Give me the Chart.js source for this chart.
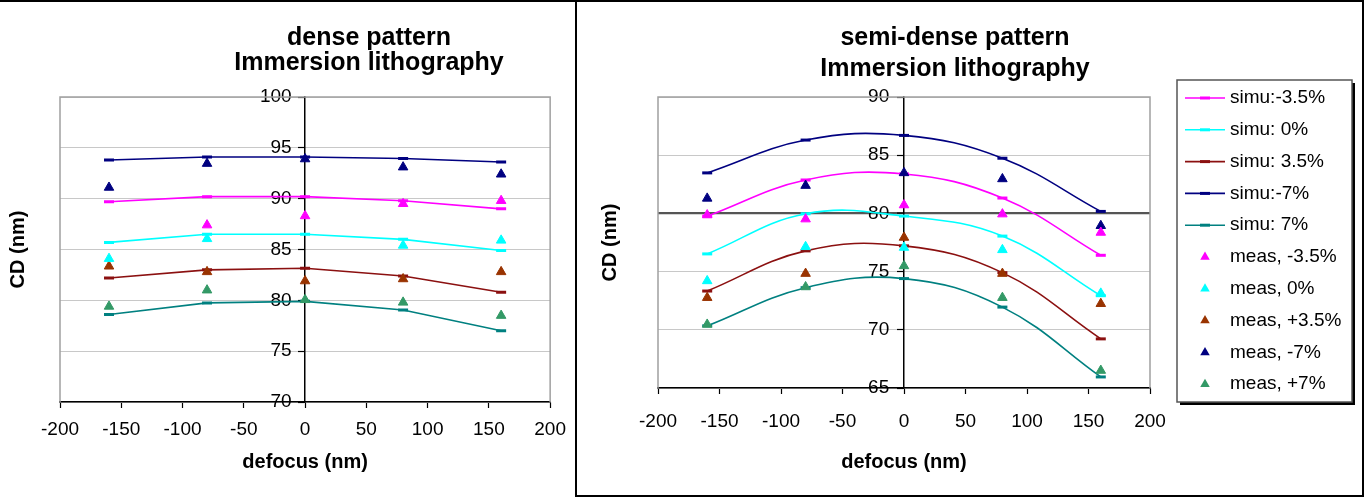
<!DOCTYPE html>
<html>
<head>
<meta charset="utf-8">
<script src="https://cdn.jsdelivr.net/npm/chart.js@4/dist/chart.umd.min.js"></script>
<style>
html,body{margin:0;padding:0;background:#fff;}
#wrap{position:relative;width:1364px;height:497px;overflow:hidden;background:#fff;}
#p1{position:absolute;left:0;top:0;width:576px;height:497px;}
#p2{position:absolute;left:577px;top:0;width:787px;height:497px;}
.ln{position:absolute;background:#000;}
</style>
</head>
<body>
<div id="wrap">
  <div id="p1"><canvas id="c1" width="576" height="497"></canvas></div>
  <div id="p2"><canvas id="c2" width="787" height="497"></canvas></div>
  <div class="ln" style="left:0;top:0;width:1364px;height:2px;"></div>
  <div class="ln" style="left:575px;top:0;width:2px;height:497px;"></div>
  <div class="ln" style="left:1362px;top:0;width:2px;height:497px;"></div>
  <div class="ln" style="left:575px;top:495px;width:789px;height:2px;"></div>
</div>
<script>
// ---------- data ----------
const defocus = [-160, -80, 0, 80, 160];
const xTickValues = [-200, -150, -100, -50, 0, 50, 100, 150, 200];
const denseYTicks = [70, 75, 80, 85, 90, 95, 100];
const semiYTicks = [65, 70, 75, 80, 85, 90];

const seriesLabels = ['simu:-3.5%', 'simu: 0%', 'simu: 3.5%', 'simu:-7%', 'simu: 7%',
                      'meas, -3.5%', 'meas, 0%', 'meas, +3.5%', 'meas, -7%', 'meas, +7%'];

// dense pattern
const denseSimuM35 = [89.7, 90.2, 90.2, 89.8, 89.0];
const denseSimu0   = [85.7, 86.5, 86.5, 86.0, 84.9];
const denseSimu35  = [82.2, 83.0, 83.15, 82.4, 80.8];
const denseSimuM7  = [93.8, 94.1, 94.1, 93.95, 93.6];
const denseSimu7   = [78.6, 79.75, 79.9, 79.05, 77.0];
const denseMeasM35 = [null, 87.4, 88.3, 89.5, 89.8];
const denseMeas0   = [84.1, 86.05, null, 85.4, 85.9];
const denseMeas35  = [83.35, 82.8, 81.9, 82.1, 82.8];
const denseMeasM7  = [91.1, 93.45, 93.9, 93.1, 92.4];
const denseMeas7   = [79.4, 81.0, 80.05, 79.8, 78.5];

// semi-dense pattern
const semiSimuM35 = [79.77, 82.87, 83.39, 81.32, 76.4];
const semiSimu0   = [76.52, 79.97, 79.77, 78.05, 72.93];
const semiSimu35  = [73.33, 76.78, 77.21, 74.91, 69.22];
const semiSimuM7  = [83.48, 86.3, 86.7, 84.74, 80.17];
const semiSimu7   = [70.34, 73.62, 74.4, 71.95, 65.95];
const semiMeasM35 = [79.86, 79.51, 80.72, 79.94, 78.36];
const semiMeas0   = [74.2, 77.13, 77.07, 76.87, 73.13];
const semiMeas35  = [72.76, 74.83, 77.93, 74.83, 72.24];
const semiMeasM7  = [81.29, 82.39, 83.48, 82.96, 78.94];
const semiMeas7   = [70.46, 73.68, 75.49, 72.76, 66.5];

// ---------- styling ----------
const FONT = "'Liberation Sans', Arial, sans-serif";
const simuColors = ['#FF00FF', '#00FFFF', '#8B1010', '#000080', '#008080'];
const measColors = ['#FF00FF', '#00FFFF', '#993300', '#000080', '#339966'];

function pts(vals) { return defocus.map((x, i) => ({x: x, y: vals[i]})); }

function buildDatasets(simu, meas, tension) {
  const ds = [];
  simu.forEach((v, i) => ds.push({
    label: seriesLabels[i], data: pts(v), showLine: true, tension: tension,
    borderColor: simuColors[i], backgroundColor: simuColors[i], borderWidth: 1.6,
    pointStyle: 'line', pointRadius: 5, pointBorderWidth: 3, pointBorderColor: simuColors[i],
    pointHoverRadius: 5, order: 2
  }));
  meas.forEach((v, i) => ds.push({
    label: seriesLabels[5 + i], data: pts(v), showLine: false,
    borderColor: measColors[i], backgroundColor: measColors[i],
    pointStyle: 'triangle', pointRadius: 5.5, pointBorderWidth: 1, pointHoverRadius: 5.5, order: 1
  }));
  return ds;
}

const textPlugin = {
  id: 'panelText',
  afterDraw(chart, args, opts) {
    const ctx = chart.ctx;
    ctx.save();
    ctx.fillStyle = '#000';
    ctx.textAlign = 'center';
    ctx.textBaseline = 'middle';
    ctx.font = 'bold ' + opts.titleSize + 'px ' + FONT;
    opts.title.forEach((t, i) => ctx.fillText(t, opts.titleX, opts.titleY[i]));
    ctx.translate(opts.yTitleX, (chart.chartArea.top + chart.chartArea.bottom) / 2);
    ctx.rotate(-Math.PI / 2);
    ctx.font = 'bold ' + opts.yTitleSize + 'px ' + FONT;
    ctx.fillText(opts.yTitle, 0, 0);
    ctx.restore();
  }
};

const framePlugin = {
  id: 'plotFrame',
  beforeDatasetsDraw(chart) {
    const {ctx, chartArea: a} = chart;
    ctx.save();
    ctx.strokeStyle = '#a0a0a0';
    ctx.lineWidth = 1.5;
    ctx.beginPath();
    ctx.moveTo(a.left, a.bottom);
    ctx.lineTo(a.left, a.top);
    ctx.lineTo(a.right, a.top);
    ctx.lineTo(a.right, a.bottom);
    ctx.stroke();
    ctx.restore();
  }
};

const legendPlugin = {
  id: 'boxLegend',
  afterDraw(chart, args, opts) {
    if (!opts.display) return;
    const ctx = chart.ctx;
    ctx.save();
    ctx.fillStyle = '#000';
    ctx.fillRect(opts.x + 3, opts.y + 3, opts.w, opts.h);
    ctx.fillStyle = '#fff';
    ctx.fillRect(opts.x, opts.y, opts.w, opts.h);
    ctx.strokeStyle = '#555';
    ctx.lineWidth = 1.5;
    ctx.strokeRect(opts.x, opts.y, opts.w, opts.h);
    ctx.font = opts.fontSize + 'px ' + FONT;
    ctx.textAlign = 'left';
    ctx.textBaseline = 'middle';
    chart.data.datasets.forEach((d, i) => {
      const y = opts.firstY + i * opts.rowH;
      const mx = opts.x + 28;
      ctx.fillStyle = d.backgroundColor;
      ctx.strokeStyle = d.borderColor;
      if (d.showLine) {
        ctx.lineWidth = 1.6;
        ctx.beginPath();
        ctx.moveTo(opts.x + 8, y);
        ctx.lineTo(opts.x + 48, y);
        ctx.stroke();
        ctx.lineWidth = 3;
        ctx.beginPath();
        ctx.moveTo(mx - 5, y);
        ctx.lineTo(mx + 5, y);
        ctx.stroke();
      } else {
        const r = 5.5;
        ctx.beginPath();
        ctx.moveTo(mx, y - r);
        ctx.lineTo(mx + r * 0.866, y + r * 0.5);
        ctx.lineTo(mx - r * 0.866, y + r * 0.5);
        ctx.closePath();
        ctx.fill();
      }
      ctx.fillStyle = '#000';
      ctx.fillText(d.label, opts.x + 53, y);
    });
    ctx.restore();
  }
};

function makeOptions(cfg) {
  return {
    responsive: false, animation: false, events: [],
    layout: {padding: cfg.padding},
    plugins: {
      legend: {display: false}, tooltip: {enabled: false},
      panelText: cfg.text,
      boxLegend: cfg.legend
    },
    scales: {
      x: {
        type: 'linear', min: -200, max: 200, position: 'bottom',
        afterBuildTicks: s => { s.ticks = xTickValues.map(v => ({value: v})); },
        afterFit: s => { s.height = cfg.xHeight; },
        ticks: {font: {family: FONT, size: 19}, color: '#000', padding: cfg.xTickPad, maxRotation: 0, autoSkip: false},
        grid: {drawOnChartArea: false, drawTicks: true, tickLength: 6, tickColor: '#000', tickWidth: 1.2},
        border: {color: '#000', width: 1.5},
        title: {display: true, text: 'defocus (nm)', color: '#000',
                font: {family: FONT, size: 20, weight: 'bold'}, padding: {top: 0, bottom: cfg.xTitlePad}}
      },
      y: {
        type: 'linear', min: cfg.yMin, max: cfg.yMax, position: {x: 0},
        afterBuildTicks: s => { s.ticks = cfg.yTicks.map(v => ({value: v})); },
        ticks: {display: false},
        grid: {
          color: c => (cfg.darkY !== undefined && c.tick && c.tick.value === cfg.darkY) ? '#555' : '#c8c8c8',
          lineWidth: c => (cfg.darkY !== undefined && c.tick && c.tick.value === cfg.darkY) ? 2.2 : 1,
          drawTicks: true, tickLength: 6, tickColor: '#000', tickWidth: 1.2
        },
        border: {color: '#000', width: 1.5}
      },
      yLabels: {
        type: 'linear', min: cfg.yMin, max: cfg.yMax, position: {x: cfg.labelX},
        afterBuildTicks: s => { s.ticks = cfg.yTicks.map(v => ({value: v})); },
        ticks: {font: {family: FONT, size: 19}, color: '#000', padding: 0},
        grid: {display: false, drawTicks: false},
        border: {display: false}
      }
    }
  };
}

new Chart(document.getElementById('c1'), {
  type: 'scatter',
  data: {datasets: buildDatasets(
    [denseSimuM35, denseSimu0, denseSimu35, denseSimuM7, denseSimu7],
    [denseMeasM35, denseMeas0, denseMeas35, denseMeasM7, denseMeas7], 0)},
  options: makeOptions({
    padding: {left: 60, right: 24, top: 97, bottom: 0},
    xHeight: 95, xTickPad: 10, xTitlePad: 23,
    yMin: 70, yMax: 100, yTicks: denseYTicks, labelX: -11,
    text: {title: ['dense pattern', 'Immersion lithography'], titleX: 369, titleY: [38, 63], titleSize: 25,
           yTitle: 'CD (nm)', yTitleX: 18, yTitleSize: 20},
    legend: {display: false}
  }),
  plugins: [framePlugin, textPlugin, legendPlugin]
});

new Chart(document.getElementById('c2'), {
  type: 'scatter',
  data: {datasets: buildDatasets(
    [semiSimuM35, semiSimu0, semiSimu35, semiSimuM7, semiSimu7],
    [semiMeasM35, semiMeas0, semiMeas35, semiMeasM7, semiMeas7], 0.4)},
  options: makeOptions({
    padding: {left: 81, right: 214, top: 97, bottom: 0},
    xHeight: 109, xTickPad: 16, xTitlePad: 23,
    yMin: 65, yMax: 90, yTicks: semiYTicks, darkY: 80, labelX: -12,
    text: {title: ['semi-dense pattern', 'Immersion lithography'], titleX: 378, titleY: [38, 69], titleSize: 25,
           yTitle: 'CD (nm)', yTitleX: 33, yTitleSize: 20},
    legend: {display: true, x: 600, y: 80, w: 175, h: 322, firstY: 98, rowH: 31.8, fontSize: 19}
  }),
  plugins: [framePlugin, textPlugin, legendPlugin]
});
</script>
</body>
</html>
